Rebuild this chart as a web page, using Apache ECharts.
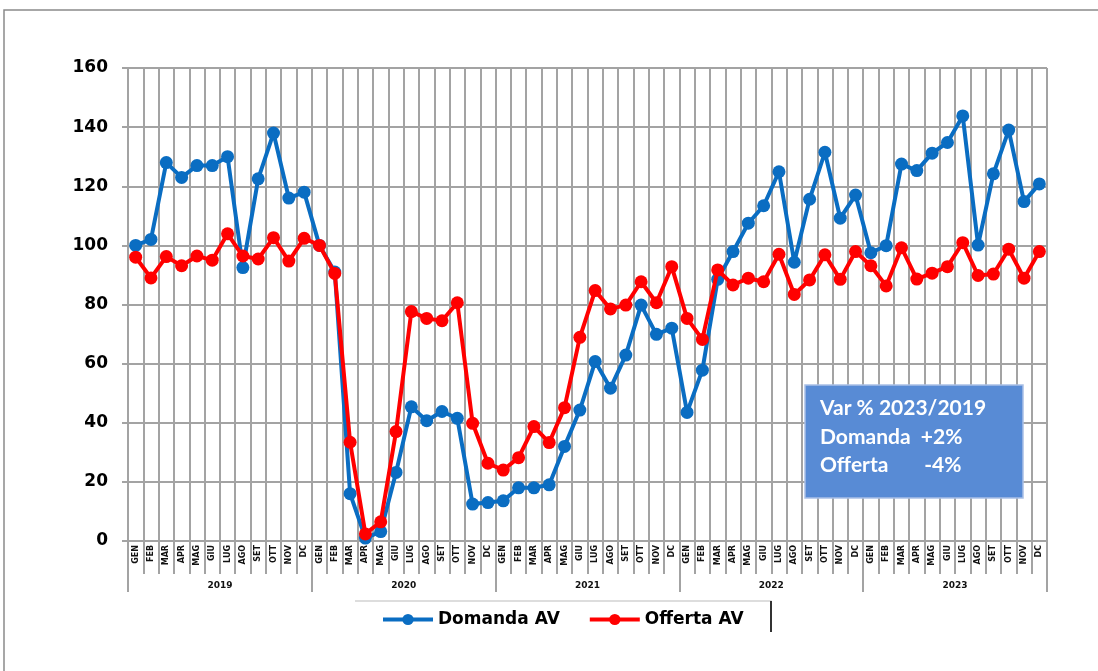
<!DOCTYPE html>
<html>
<head>
<meta charset="utf-8">
<script src="https://cdn.jsdelivr.net/npm/echarts@6/dist/echarts.min.js"></script>
<style>
  html, body { margin: 0; padding: 0; background: #ffffff; }
  #chart { width: 1098px; height: 671px; }
</style>
</head>
<body>
<div id="chart"></div>
<script>
// Monthly index values, 2019-2023
const years = ['2019', '2020', '2021', '2022', '2023'];
const months = ['GEN', 'FEB', 'MAR', 'APR', 'MAG', 'GIU', 'LUG', 'AGO', 'SET', 'OTT', 'NOV', 'DC'];

const domandaAV = [
  100, 102, 128, 123, 127, 127, 130, 92.5, 122.5, 138, 116, 118,
  100, 91, 16, 1, 3.2, 23.2, 45.4, 40.7, 43.8, 41.5, 12.5, 13,
  13.6, 18, 18, 19, 32, 44.3, 60.7, 51.7, 62.9, 79.8, 69.9, 72,
  43.5, 57.8, 88.5, 97.9, 107.5, 113.4, 124.9, 94.3, 115.6, 131.5, 109.2, 117,
  97.5, 99.9, 127.5, 125.3, 131.2, 134.8, 143.8, 100.1, 124.2, 139, 114.8, 120.8
];

const offertaAV = [
  96, 89, 96.2, 93.1, 96.4, 95, 103.9, 96.4, 95.4, 102.6, 94.7, 102.4,
  100, 90.5, 33.4, 2.4, 6.5, 37, 77.6, 75.3, 74.5, 80.6, 39.8, 26.3,
  24, 28.2, 38.7, 33.3, 45.1, 68.9, 84.7, 78.5, 79.8, 87.7, 80.6, 92.8,
  75.3, 68.2, 91.7, 86.6, 88.9, 87.7, 97, 83.4, 88.3, 96.8, 88.5, 97.9,
  93.1, 86.3, 99.2, 88.6, 90.6, 92.8, 100.9, 89.8, 90.3, 98.7, 88.9, 97.9
];

const yTicks = { min: 0, max: 160, interval: 20 };

const noteLines = ['Var % 2023/2019', 'Domanda  +2%', 'Offerta       -4%'];

// one category per month, in order
const monthCategories = [];
years.forEach(y => months.forEach(m => monthCategories.push(m + ' ' + y)));

const chart = echarts.init(document.getElementById('chart'));

const gridColor = '#a3a3a3';

chart.setOption({
  animation: false,
  backgroundColor: '#ffffff',
  grid: { left: 128, right: 51, top: 68, bottom: 130, containLabel: false },
  legend: {
    left: 376,
    top: 606,
    itemWidth: 50,
    itemHeight: 14,
    itemGap: 28,
    lineStyle: { width: 4 },
    textStyle: { fontFamily: 'DejaVu Sans', fontWeight: 'bold', fontSize: 17, color: '#000' },
    data: ['Domanda AV', 'Offerta AV']
  },
  xAxis: [
    {
      type: 'category',
      data: monthCategories,
      boundaryGap: true,
      axisLine: { lineStyle: { color: gridColor, width: 2 } },
      axisTick: { show: true, interval: 0, length: 33, lineStyle: { color: gridColor, width: 2 } },
      axisLabel: {
        interval: 0,
        rotate: 90,
        margin: 4,
        fontSize: 8,
        fontWeight: 'bold',
        fontFamily: 'DejaVu Sans',
        color: '#111',
        formatter: v => v.split(' ')[0]
      },
      splitLine: { show: true, interval: 0, lineStyle: { color: gridColor, width: 2 } }
    },
    {
      type: 'category',
      data: years,
      position: 'bottom',
      boundaryGap: true,
      axisLine: { show: false },
      axisTick: { show: true, interval: 0, length: 51, lineStyle: { color: gridColor, width: 2 } },
      axisLabel: {
        interval: 0,
        margin: 40,
        fontSize: 9,
        fontWeight: 'bold',
        fontFamily: 'DejaVu Sans',
        color: '#111'
      },
      splitLine: { show: false }
    }
  ],
  yAxis: {
    type: 'value',
    min: yTicks.min,
    max: yTicks.max,
    interval: yTicks.interval,
    axisLine: { show: true, lineStyle: { color: gridColor, width: 2 } },
    axisTick: { show: true, length: 6, lineStyle: { color: gridColor, width: 2 } },
    axisLabel: {
      margin: 20,
      fontSize: 17,
      fontWeight: 'bold',
      fontFamily: 'DejaVu Sans',
      color: '#000'
    },
    splitLine: { show: true, lineStyle: { color: gridColor, width: 2 } }
  },
  series: [
    {
      name: 'Domanda AV',
      type: 'line',
      data: domandaAV,
      xAxisIndex: 0,
      symbol: 'circle',
      symbolSize: 13,
      itemStyle: { color: '#0a6dc2' },
      lineStyle: { color: '#0a6dc2', width: 4 },
      z: 3
    },
    {
      name: 'Offerta AV',
      type: 'line',
      data: offertaAV,
      xAxisIndex: 0,
      symbol: 'circle',
      symbolSize: 13,
      itemStyle: { color: '#ff0000' },
      lineStyle: { color: '#ff0000', width: 4 },
      z: 4
    }
  ],
  graphic: [
    // outer frame
    {
      type: 'polyline',
      shape: { points: [[4, 671], [4, 10], [1098, 10]] },
      style: { stroke: '#8a8a8a', lineWidth: 1.5, fill: null },
      silent: true
    },
    // legend frame
    {
      type: 'polyline',
      shape: { points: [[355, 601], [771, 601], [771, 632]] },
      style: { stroke: '#bbbbbb', lineWidth: 1.2, fill: null },
      silent: true
    },
    {
      type: 'line',
      shape: { x1: 771, y1: 601, x2: 771, y2: 632 },
      style: { stroke: '#333333', lineWidth: 2 },
      silent: true
    },
    // note box
    {
      type: 'rect',
      shape: { x: 805, y: 385, width: 218, height: 113 },
      style: { fill: '#588bd5', stroke: '#a9c0e6', lineWidth: 1.5 },
      z: 100
    },
    {
      type: 'text',
      left: 820,
      top: 394,
      z: 101,
      style: {
        text: noteLines.join('\n'),
        fill: '#ffffff',
        font: 'bold 21px Lato',
        lineHeight: 28.5
      }
    }
  ]
});
</script>
</body>
</html>
